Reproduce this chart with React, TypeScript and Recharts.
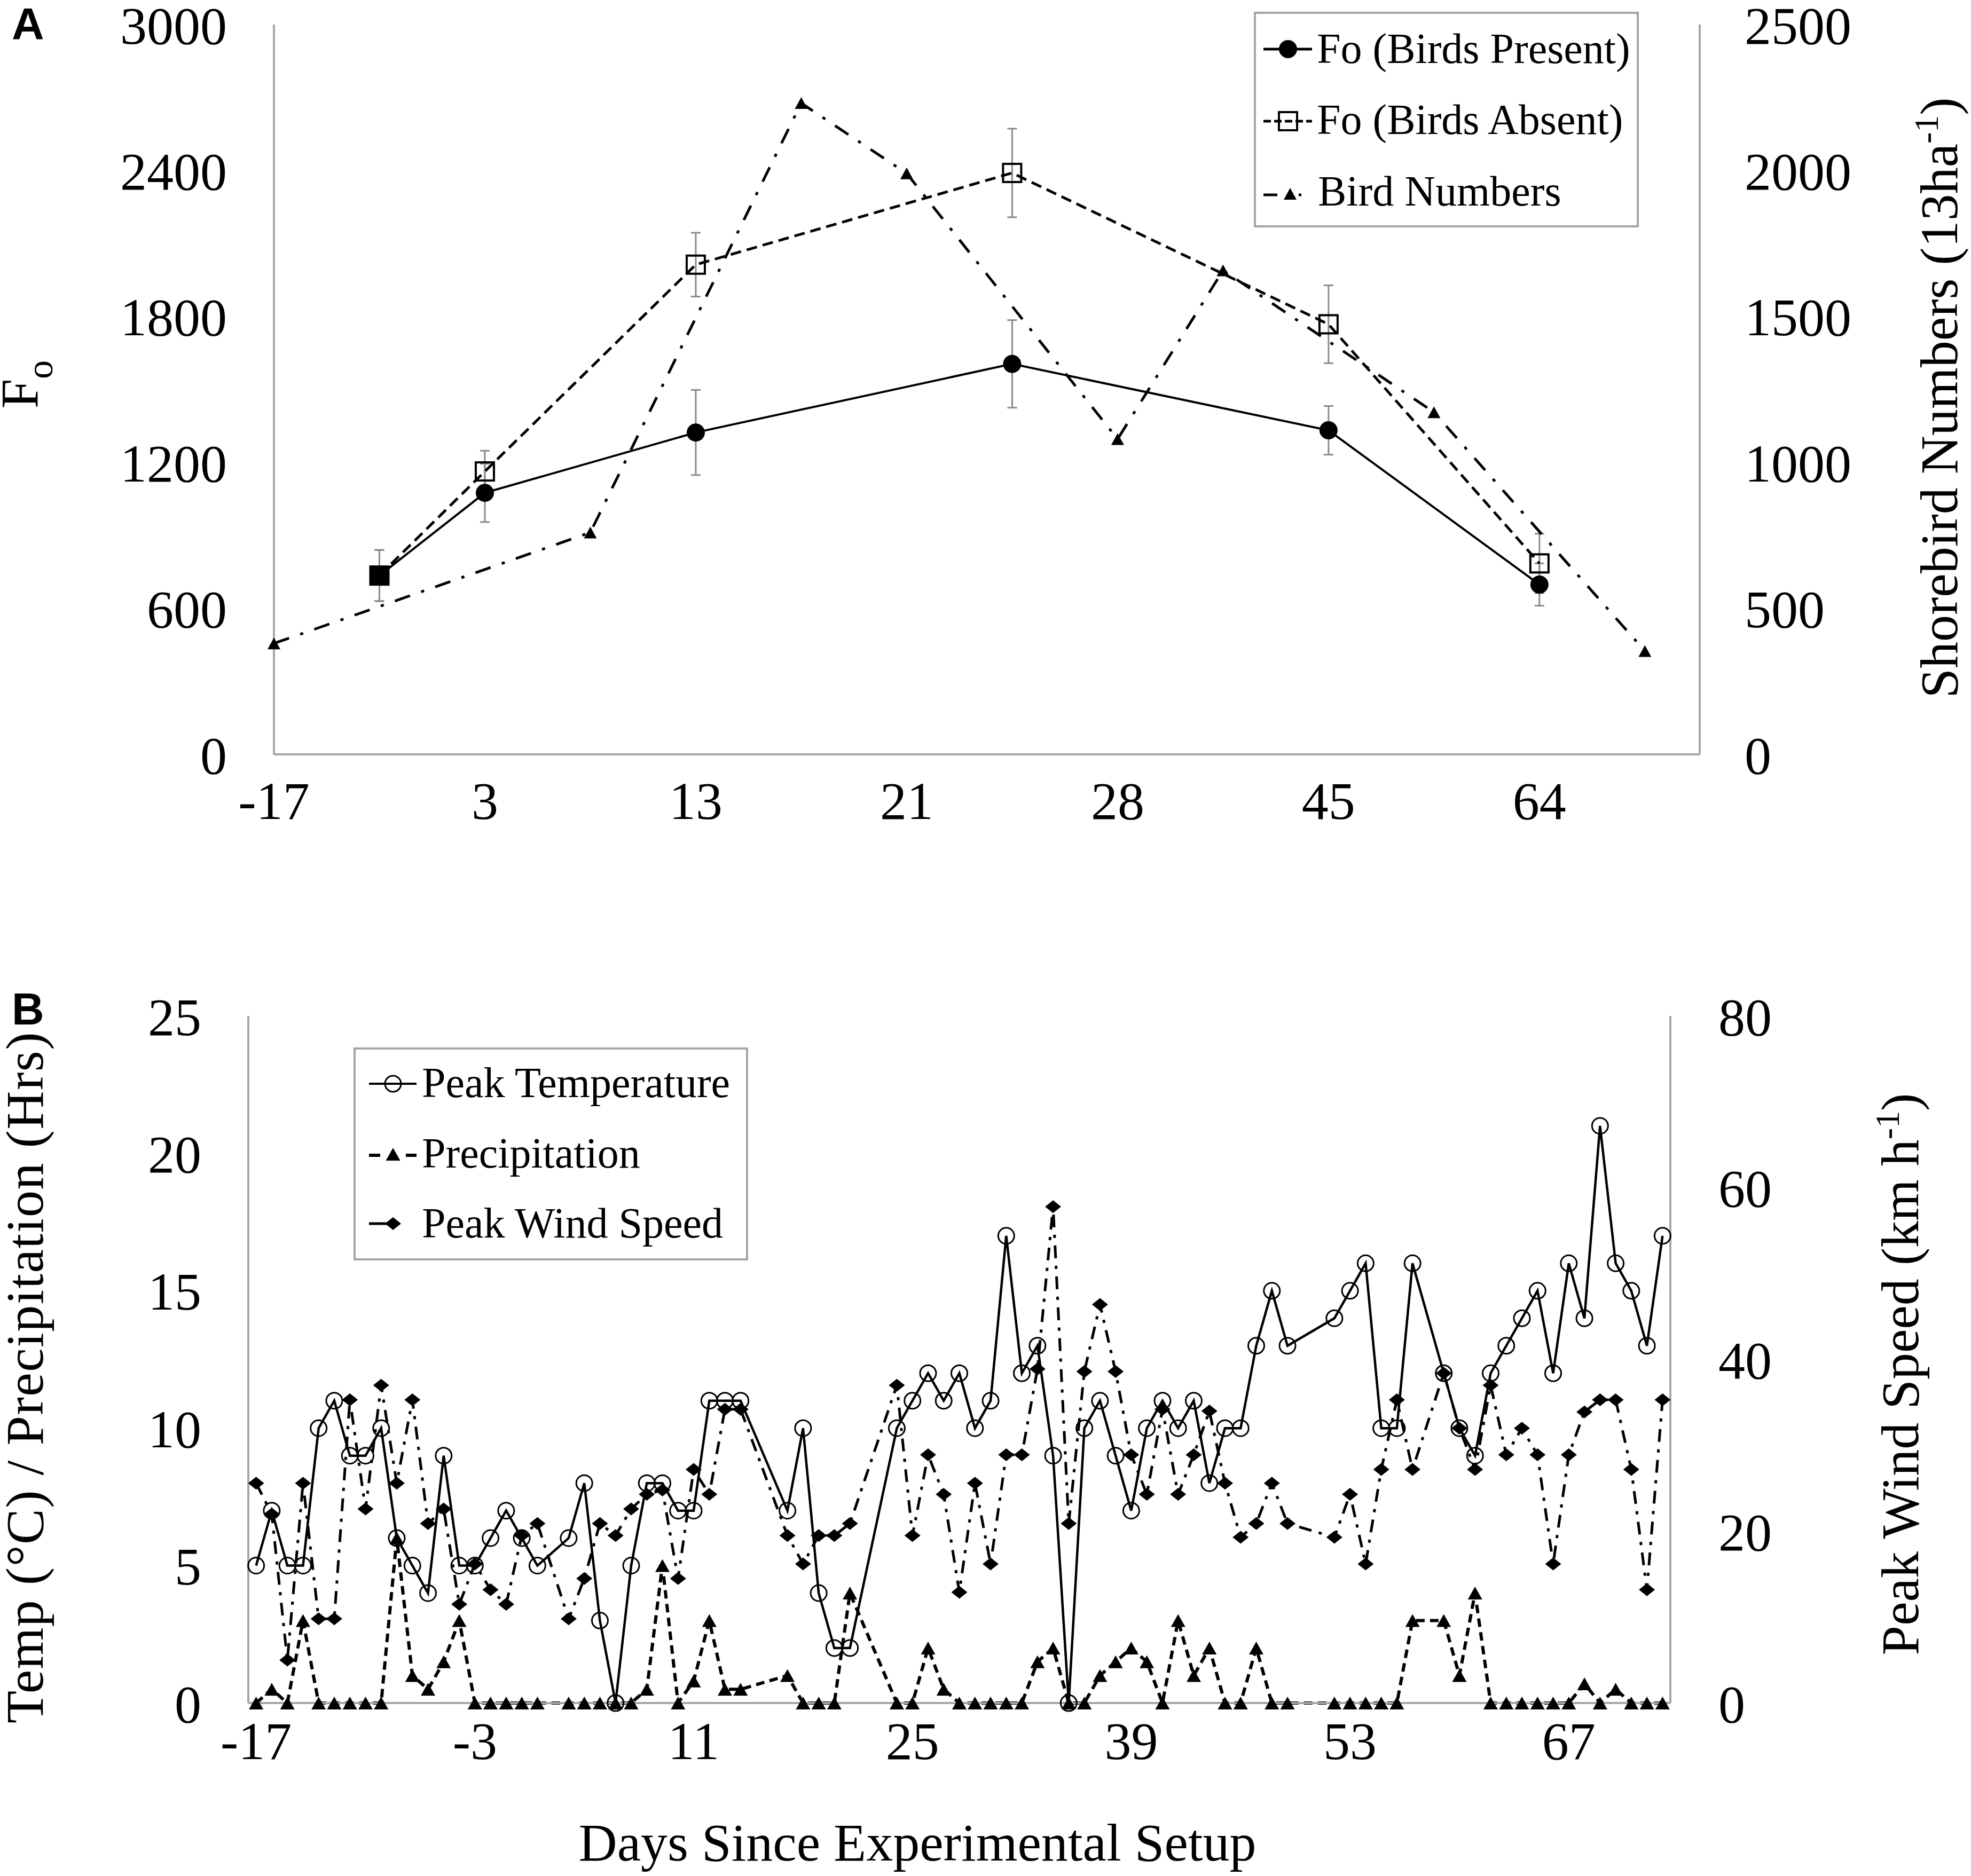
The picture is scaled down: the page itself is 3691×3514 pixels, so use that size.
import React from 'react'
import { LineChart, Line, XAxis, YAxis, ErrorBar } from 'recharts'

// ============================================
// Panel A data
// ============================================

const aTickLabels = ['-17', '3', '13', '21', '28', '45', '64']
const aFoPos = [0.5, 1, 2, 3.5, 5, 6]
const aPresent = [735, 1075, 1323, 1605, 1332, 698]
const aPresentErr = [105, 120, 175, 180, 100, 87]
const aAbsent = [735, 1163, 2013, 2390, 1768, 785]
const aAbsentErr = [105, 85, 131, 182, 160, 122]
const aBirdPos = [0, 1.5, 2.5, 3, 4, 4.5, 5.5, 6.5]
const aBirds = [380, 760, 2231, 1990, 1080, 1658, 1172, 354]
const aLeftTicks = [0, 600, 1200, 1800, 2400, 3000]
const aRightTicks = [0, 500, 1000, 1500, 2000, 2500]

// ============================================
// Panel B data
// ============================================

const bDays = [
  -17, -16, -15, -14, -13, -12, -11, -10, -9, -8, -7, -6, -5, -4, -3, -2, -1, 0, 1,
  3, 4, 5, 6, 7, 8, 9, 10, 11, 12, 13, 14,
  17, 18, 19, 20, 21,
  24, 25, 26, 27, 28, 29, 30, 31, 32, 33, 34, 35, 36, 37, 38, 39, 40, 41, 42, 43, 44, 45, 46, 47, 48, 49,
  52, 53, 54, 55, 56, 57,
  59, 60, 61, 62, 63, 64, 65, 66, 67, 68, 69, 70, 71, 72, 73,
]
const bTemp = [
  5, 7, 5, 5, 10, 11, 9, 9, 10, 6, 5, 4, 9, 5, 5, 6, 7, 6, 5,
  6, 8, 3, 0, 5, 8, 8, 7, 7, 11, 11, 11,
  7, 10, 4, 2, 2,
  10, 11, 12, 11, 12, 10, 11, 17, 12, 13, 9, 0, 10, 11, 9, 7, 10, 11, 10, 11, 8, 10, 10, 13, 15, 13,
  14, 15, 16, 10, 10, 16,
  12, 10, 9, 12, 13, 14, 15, 12, 16, 14, 21, 16, 15, 13, 17,
]
const bPrecip = [
  0, 0.5, 0, 3, 0, 0, 0, 0, 0, 6, 1, 0.5, 1.5, 3, 0, 0, 0, 0, 0,
  0, 0, 0, 0, 0, 0.5, 5, 0, 0.8, 3, 0.5, 0.5,
  1, 0, 0, 0, 4,
  0, 0, 2, 0.5, 0, 0, 0, 0, 0, 1.5, 2, 0, 0, 1, 1.5, 2, 1.5, 0, 3, 1, 2, 0, 0, 2, 0, 0,
  0, 0, 0, 0, 0, 3,
  3, 1, 4, 0, 0, 0, 0, 0, 0, 0.7, 0, 0.5, 0, 0, 0,
]
const bWind = [
  25.6, 22, 5, 25.6, 9.8, 9.8, 35.3, 22.6, 37, 25.6, 35.3, 20.9, 22.6, 11.5, 16.2, 13.2, 11.5, 19.5, 20.9,
  9.8, 14.5, 20.9, 19.5, 22.6, 24.3, 24.8, 14.5, 27.2, 24.3, 34.2, 34.2,
  19.5, 16.2, 19.5, 19.5, 20.9,
  37, 19.5, 28.9, 24.3, 12.9, 25.6, 16.2, 28.9, 28.9, 38.9, 57.8, 20.9, 38.6, 46.4, 38.6, 28.9, 24.3, 34.2,
  24.3, 28.9, 34, 25.6, 19.3, 20.9, 25.6, 20.9,
  19.3, 24.3, 16.2, 27.2, 35.3, 27.2,
  38.4, 32, 27.2, 37, 28.9, 32, 28.9, 16.2, 28.9, 33.9, 35.3, 35.3, 27.2, 13.2, 35.3,
]
const bDayTicks = [-17, -3, 11, 25, 39, 53, 67]
const bLeftTicks = [0, 5, 10, 15, 20, 25]
const bRightTicks = [0, 20, 40, 60, 80]

// ============================================
// Tables for the library
// ============================================

const presentData = aFoPos.map((x, i) => ({ x, y: aPresent[i], err: aPresentErr[i] }))
const absentData = aFoPos.map((x, i) => ({ x, y: aAbsent[i], err: aAbsentErr[i] }))
const birdData = aBirdPos.map((x, i) => ({ x, y: aBirds[i] }))
const weatherData = bDays.map((day, i) => ({
  day,
  temp: bTemp[i],
  precip: bPrecip[i],
  wind: bWind[i],
}))

// ============================================
// Styles and markers
// ============================================

const SERIF = '"Liberation Serif", "Times New Roman", serif'
const SANS = '"Liberation Sans", Arial, sans-serif'
const tickStyle = { fontSize: 100, fill: '#000', fontFamily: SERIF }
const axisStyle = { stroke: '#a6a6a6', strokeWidth: 4 }
const errColor = '#8a8a8a'

interface DotProps {
  cx?: number
  cy?: number
  index?: number
}

function triPath(cx: number, cy: number, w: number, h: number) {
  return `M${cx},${cy - h / 2} L${cx + w / 2},${cy + h / 2} L${cx - w / 2},${cy + h / 2} Z`
}

function diamondPath(cx: number, cy: number, w: number, h: number) {
  return `M${cx},${cy - h / 2} L${cx + w / 2},${cy} L${cx},${cy + h / 2} L${cx - w / 2},${cy} Z`
}

const presentDot = (p: DotProps) => {
  if (p.cx == null || p.cy == null) return <g key={`p${p.index}`} />
  // the first point is drawn as a filled square in the source
  if (p.index === 0) {
    return <rect key={`p${p.index}`} x={p.cx - 18} y={p.cy - 18} width={36} height={36} fill="#000" />
  }
  return <circle key={`p${p.index}`} cx={p.cx} cy={p.cy} r={17} fill="#000" />
}

const absentDot = (p: DotProps) => {
  if (p.cx == null || p.cy == null) return <g key={`a${p.index}`} />
  return (
    <rect key={`a${p.index}`} x={p.cx - 17} y={p.cy - 17} width={34} height={34}
      fill="none" stroke="#000" strokeWidth={4} />
  )
}

const birdDot = (p: DotProps) => {
  if (p.cx == null || p.cy == null) return <g key={`b${p.index}`} />
  return <path key={`b${p.index}`} d={triPath(p.cx, p.cy, 24, 22)} fill="#000" />
}

const tempDot = (p: DotProps) => {
  if (p.cx == null || p.cy == null) return <g key={`t${p.index}`} />
  return <circle key={`t${p.index}`} cx={p.cx} cy={p.cy} r={15} fill="none" stroke="#000" strokeWidth={3} />
}

const precipDot = (p: DotProps) => {
  if (p.cx == null || p.cy == null) return <g key={`r${p.index}`} />
  return <path key={`r${p.index}`} d={triPath(p.cx, p.cy, 27, 24)} fill="#000" />
}

const windDot = (p: DotProps) => {
  if (p.cx == null || p.cy == null) return <g key={`w${p.index}`} />
  return <path key={`w${p.index}`} d={diamondPath(p.cx, p.cy, 30, 24)} fill="#000" />
}

// ============================================
// Main Component
// ============================================

export default function App() {
  return (
    <div style={{ position: 'absolute', left: 0, top: 0, width: 3691, height: 3514, background: '#fff', overflow: 'hidden' }}>
      {/* Panel A */}
      <div style={{ position: 'absolute', left: 0, top: 0 }}>
        <LineChart width={3691} height={1700} margin={{ top: 46, right: 0, bottom: 0, left: 0 }}>
          <XAxis
            type="number"
            dataKey="x"
            domain={[0, 6.76]}
            ticks={[0, 1, 2, 3, 4, 5, 6]}
            interval={0}
            tickFormatter={(v: number) => aTickLabels[v] ?? ''}
            height={287}
            tick={tickStyle}
            axisLine={axisStyle}
            tickLine={false}
            tickSize={0}
            tickMargin={50}
          />
          <YAxis
            yAxisId="l"
            domain={[0, 3000]}
            ticks={aLeftTicks}
            interval={0}
            width={513}
            tick={tickStyle}
            axisLine={axisStyle}
            tickLine={false}
            tickSize={0}
            tickMargin={88}
          />
          <YAxis
            yAxisId="r"
            orientation="right"
            domain={[0, 2500]}
            ticks={aRightTicks}
            interval={0}
            width={508}
            tick={tickStyle}
            axisLine={axisStyle}
            tickLine={false}
            tickSize={0}
            tickMargin={84}
          />
          <Line
            yAxisId="l"
            data={presentData}
            dataKey="y"
            type="linear"
            stroke="#000"
            strokeWidth={4}
            dot={presentDot}
            activeDot={false}
            isAnimationActive={false}
          >
            <ErrorBar dataKey="err" direction="y" width={9} strokeWidth={3} stroke={errColor} />
          </Line>
          <Line
            yAxisId="l"
            data={absentData}
            dataKey="y"
            type="linear"
            stroke="#000"
            strokeWidth={5}
            strokeDasharray="20 11"
            dot={absentDot}
            activeDot={false}
            isAnimationActive={false}
          >
            <ErrorBar dataKey="err" direction="y" width={9} strokeWidth={3} stroke={errColor} />
          </Line>
          <Line
            yAxisId="r"
            data={birdData}
            dataKey="y"
            type="linear"
            stroke="#000"
            strokeWidth={5}
            strokeDasharray="30 22 6 22"
            dot={birdDot}
            activeDot={false}
            isAnimationActive={false}
          />
        </LineChart>
      </div>

      {/* Panel B */}
      <div style={{ position: 'absolute', left: 0, top: 1700 }}>
        <LineChart width={3691} height={1814} data={weatherData} margin={{ top: 203, right: 0, bottom: 0, left: 0 }}>
          <XAxis
            type="number"
            dataKey="day"
            domain={[-17.5, 73.5]}
            ticks={bDayTicks}
            interval={0}
            height={324}
            tick={tickStyle}
            axisLine={axisStyle}
            tickLine={false}
            tickSize={0}
            tickMargin={34}
          />
          <YAxis
            yAxisId="l"
            domain={[0, 25]}
            ticks={bLeftTicks}
            interval={0}
            width={465}
            tick={tickStyle}
            axisLine={axisStyle}
            tickLine={false}
            tickSize={0}
            tickMargin={88}
          />
          <YAxis
            yAxisId="r"
            orientation="right"
            domain={[0, 80]}
            ticks={bRightTicks}
            interval={0}
            width={563}
            tick={tickStyle}
            axisLine={axisStyle}
            tickLine={false}
            tickSize={0}
            tickMargin={90}
          />
          <Line
            yAxisId="l"
            dataKey="temp"
            type="linear"
            stroke="#000"
            strokeWidth={4.5}
            dot={tempDot}
            activeDot={false}
            isAnimationActive={false}
          />
          <Line
            yAxisId="l"
            dataKey="precip"
            type="linear"
            stroke="#000"
            strokeWidth={6}
            strokeDasharray="16 10"
            dot={precipDot}
            activeDot={false}
            isAnimationActive={false}
          />
          <Line
            yAxisId="r"
            dataKey="wind"
            type="linear"
            stroke="#000"
            strokeWidth={5}
            strokeDasharray="24 14 6 14"
            dot={windDot}
            activeDot={false}
            isAnimationActive={false}
          />
        </LineChart>
      </div>

      {/* Titles and legends */}
      <svg width={3691} height={3514} style={{ position: 'absolute', left: 0, top: 0, pointerEvents: 'none' }}>
        <g fontFamily={SERIF} fill="#000">
          {/* panel letters */}
          <text x={22} y={74} fontFamily={SANS} fontWeight="bold" fontSize={84}>A</text>
          <text x={22} y={1919} fontFamily={SANS} fontWeight="bold" fontSize={84}>B</text>

          {/* panel A axis titles */}
          <text transform="translate(70,720) rotate(-90)" textAnchor="middle" fontSize={100}>
            F<tspan dy={28} fontSize={70}>o</tspan>
          </text>
          <text transform="translate(3665,745) rotate(-90)" textAnchor="middle" fontSize={100}>
            Shorebird Numbers (13ha<tspan dy={-36} fontSize={64}>-1</tspan><tspan dy={36}>)</tspan>
          </text>

          {/* panel B axis titles */}
          <text transform="translate(80,2580) rotate(-90)" textAnchor="middle" fontSize={100} letterSpacing={1.5}>
            Temp (°C) / Precipitation (Hrs)
          </text>
          <text transform="translate(3592,2574) rotate(-90)" textAnchor="middle" fontSize={100}>
            Peak Wind Speed (km h<tspan dy={-36} fontSize={64}>-1</tspan><tspan dy={36}>)</tspan>
          </text>
          <text x={1718} y={3485} textAnchor="middle" fontSize={100}>Days Since Experimental Setup</text>

          {/* legend A */}
          <rect x={2350} y={24} width={717} height={400} fill="#fff" stroke="#a6a6a6" strokeWidth={4} />
          <line x1={2366} y1={92} x2={2457} y2={92} stroke="#000" strokeWidth={5} />
          <circle cx={2412} cy={92} r={17} fill="#000" />
          <text x={2466} y={118} fontSize={80}>Fo (Birds Present)</text>
          <line x1={2366} y1={227} x2={2457} y2={227} stroke="#000" strokeWidth={5} strokeDasharray="14 6" />
          <rect x={2395} y={210} width={34} height={34} fill="none" stroke="#000" strokeWidth={4} />
          <text x={2466} y={251} fontSize={80}>Fo (Birds Absent)</text>
          <line x1={2366} y1={365} x2={2437} y2={365} stroke="#000" strokeWidth={5} strokeDasharray="26 40 5" />
          <path d={triPath(2416, 363, 24, 22)} fill="#000" />
          <text x={2468} y={385} fontSize={80}>Bird Numbers</text>

          {/* legend B */}
          <rect x={664} y={1964} width={735} height={395} fill="#fff" stroke="#a6a6a6" strokeWidth={4} />
          <line x1={691} y1={2030} x2={780} y2={2030} stroke="#000" strokeWidth={4} />
          <circle cx={736} cy={2030} r={15} fill="none" stroke="#000" strokeWidth={3} />
          <text x={790} y={2055} fontSize={80}>Peak Temperature</text>
          <line x1={691} y1={2164} x2={780} y2={2164} stroke="#000" strokeWidth={6} strokeDasharray="21 48 21" />
          <path d={triPath(736, 2162, 27, 24)} fill="#000" />
          <text x={790} y={2187} fontSize={80}>Precipitation</text>
          <line x1={691} y1={2292} x2={748} y2={2292} stroke="#000" strokeWidth={5} />
          <path d={diamondPath(736, 2292, 30, 24)} fill="#000" />
          <text x={790} y={2318} fontSize={80}>Peak Wind Speed</text>
        </g>
      </svg>
    </div>
  )
}
